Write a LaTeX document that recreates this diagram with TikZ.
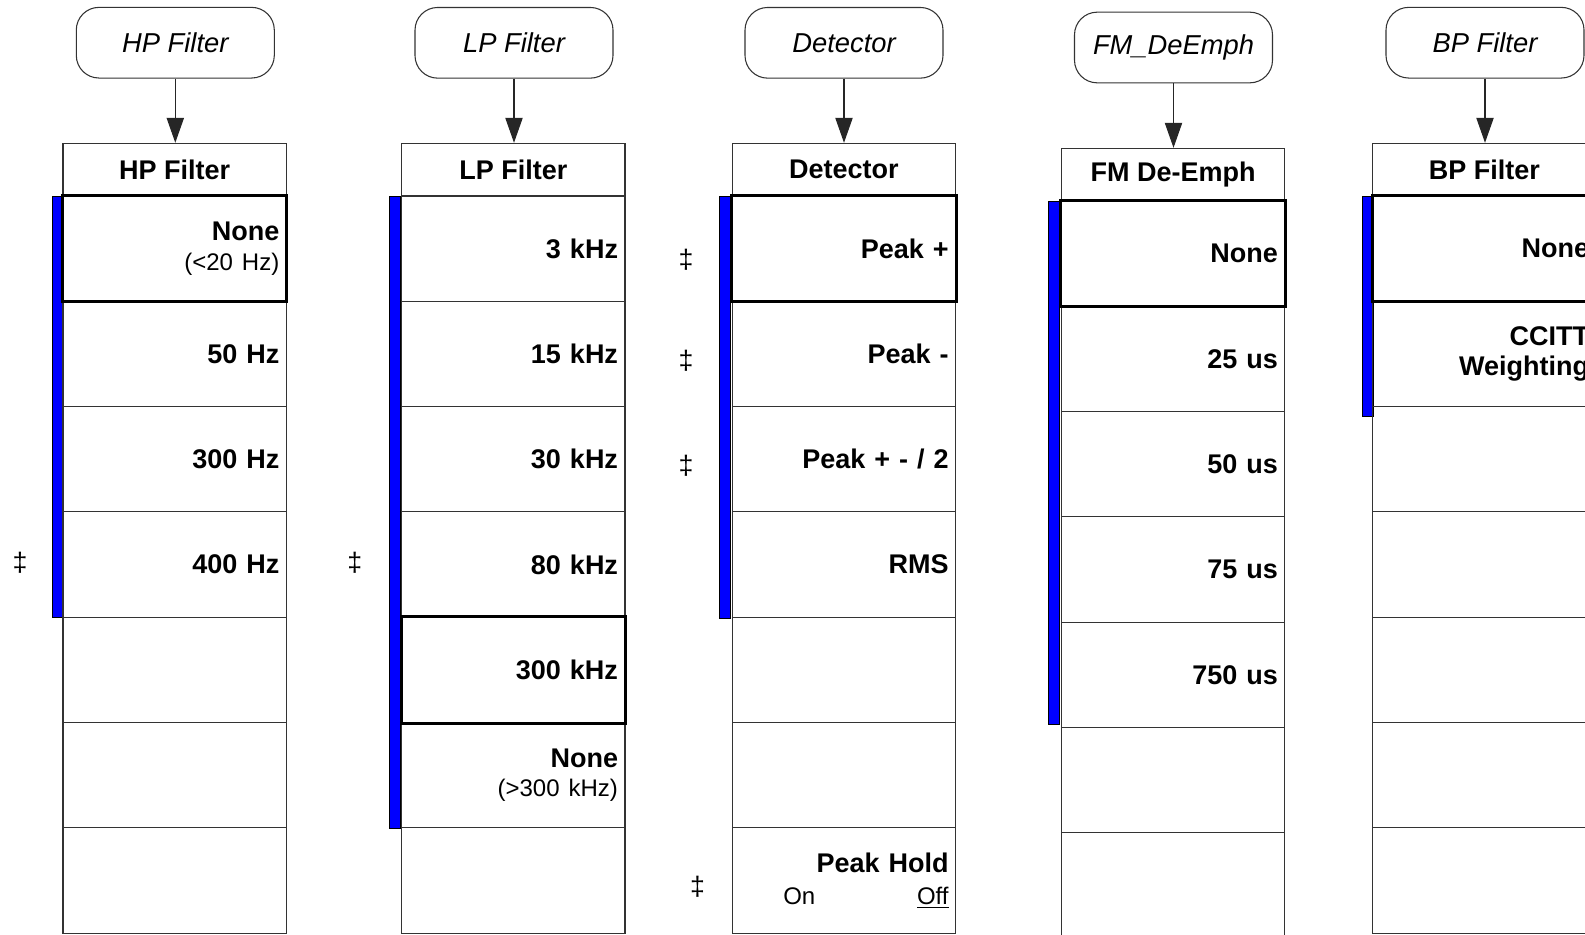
\documentclass[tikz,border=0pt]{standalone}
\usepackage{fontspec}
\setmainfont{Liberation Sans}
\usetikzlibrary{arrows.meta}
\newcommand{\subtxt}[1]{{\mdseries\fontsize{18}{22}\selectfont #1}}
\begin{document}
\begin{tikzpicture}[x=0.75pt,y=-0.75pt,
  rbox/.style={draw=black!80,line width=0.8pt,rounded corners=17pt,minimum width=148.5pt,minimum height=53pt,inner sep=0pt,font=\fontsize{20.5}{24}\selectfont\itshape},
  hdr/.style={draw=black!80,line width=0.8pt,minimum width=167.5pt,minimum height=39.5pt,inner sep=0pt,font=\fontsize{20.25}{24}\selectfont\bfseries},
  cell/.style={draw=black!80,line width=0.8pt,minimum width=167.5pt,minimum height=79pt,text width=157pt,align=right,inner xsep=5.25pt,inner ysep=0pt,font=\fontsize{20.25}{22}\selectfont\bfseries},
  selbox/.style={draw=black,line width=2.3pt},
  bar/.style={fill=blue,draw=black,line width=0.4pt},
  dag/.style={font=\fontsize{20}{22}\selectfont,inner sep=0pt},
  arr/.style={draw=black!85,line width=0.8pt,-{Triangle[length=18.75pt,width=13pt]}}
]
\useasboundingbox (0,0) rectangle (1585,935);
\clip (0,0) rectangle (1585,935);

% blue bars
\path[bar] (52.7,196) rectangle (63.3,617.3);
\path[bar] (389,196) rectangle (400.5,828.3);
\path[bar] (719,196) rectangle (730,618);
\path[bar] (1048.3,201) rectangle (1059.3,724);
\path[bar] (1362.3,196) rectangle (1373,416);

% HP Filter
\node[rbox] (hpr) at (175.3,42.7) {HP Filter};
\node[hdr] (hph) at (174.65,169.65) {HP Filter};
\foreach \t [count=\i] in {{None\\\subtxt{(<20 Hz)}},50 Hz,300 Hz,400 Hz,{},{},{}}
  \node[cell] (hp\i) at (174.65,{196+105.3*(\i-0.5)}) {\t};
\draw[selbox] (hp1.north west) rectangle (hp1.south east);
\draw[arr] (hpr.south) -- (hpr.south |- hph.north);

% LP Filter
\node[rbox] (lpr) at (514,42.8) {LP Filter};
\node[hdr] (lph) at (513.35,169.65) {LP Filter};
\foreach \t [count=\i] in {3 kHz,15 kHz,30 kHz,80 kHz,300 kHz,{None\\\subtxt{(>300 kHz)}},{}}
  \node[cell] (lp\i) at (513.35,{196+105.3*(\i-0.5)}) {\t};
\draw[selbox] (lp5.north west) rectangle (lp5.south east);
\draw[arr] (lpr.south) -- (lpr.south |- lph.north);

% Detector
\node[rbox] (der) at (844,42.8) {Detector};
\node[hdr] (deh) at (843.95,169.65) {Detector};
\foreach \t [count=\i] in {Peak +,Peak -,Peak + - / 2,RMS,{},{},{Peak Hold\\[2pt]\subtxt{\hspace*{33pt}On\hfill\underline{Off}}}}
  \node[cell] (de\i) at (843.95,{196+105.3*(\i-0.5)}) {\t};
\draw[selbox] (de1.north west) rectangle (de1.south east);
\draw[arr] (der.south) -- (der.south |- deh.north);

% FM De-Emph
\node[rbox] (fmr) at (1173.5,47.5) {FM\_DeEmph};
\node[hdr] (fmh) at (1173.15,174.65) {FM De-Emph};
\foreach \t [count=\i] in {None,25 us,50 us,75 us,750 us,{},{}}
  \node[cell] (fm\i) at (1173.15,{201+105.3*(\i-0.5)}) {\t};
\draw[selbox] (fm1.north west) rectangle (fm1.south east);
\draw[arr] (fmr.south) -- (fmr.south |- fmh.north);

% BP Filter
\node[rbox] (bpr) at (1485,42.7) {BP Filter};
\node[hdr] (bph) at (1484.35,169.65) {BP Filter};
\foreach \t [count=\i] in {None,{CCITT\\Weighting},{},{},{},{},{}}
  \node[cell] (bp\i) at (1484.35,{196+105.3*(\i-0.5)}) {\t};
\draw[selbox] (bp1.north west) rectangle (bp1.south east);
\draw[arr] (bpr.south) -- (bpr.south |- bph.north);

% double daggers
\node[dag] (d1) at (20,563) {‡};
\node[dag] (d2) at (354.8,563) {‡};
\node[dag] (d3) at (686,260) {‡};
\node[dag] (d4) at (686,361) {‡};
\node[dag] (d5) at (686,465.7) {‡};
\node[dag] (d6) at (697.5,886.5) {‡};
\end{tikzpicture}
\end{document}
